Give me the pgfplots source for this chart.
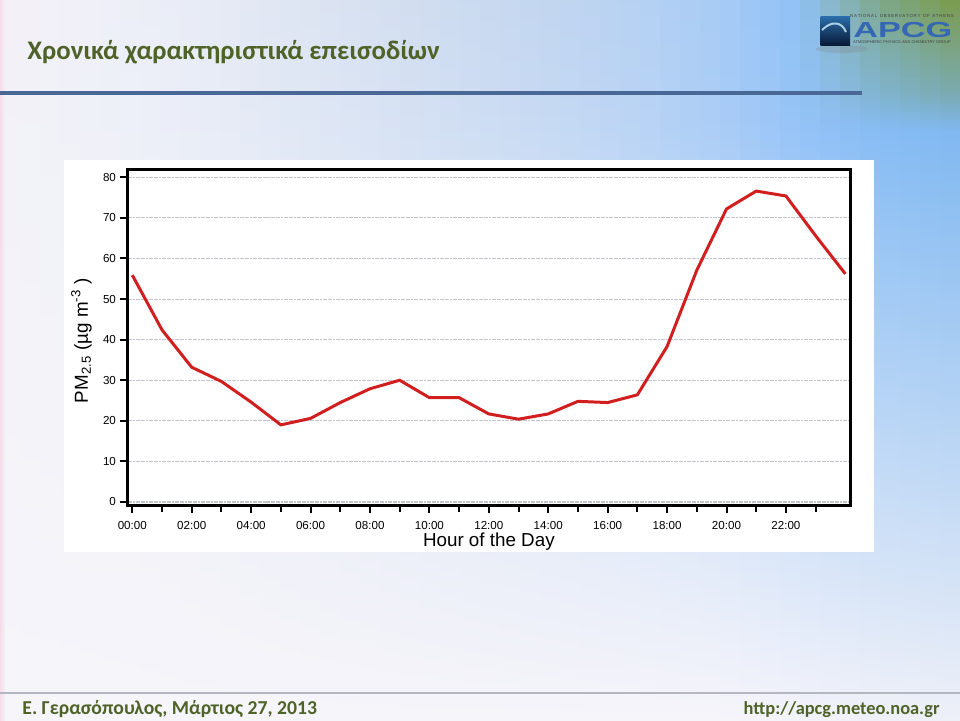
\documentclass[border=0pt]{standalone}
\usepackage{fontspec}
\setmainfont{Carlito}
\newfontfamily\arial{Liberation Sans}
\usepackage{pgfplots}
\pgfplotsset{compat=1.18}

% background colour stops (every 80 px)
\definecolor{T0}{HTML}{F5F0F7}\definecolor{T1}{HTML}{F0F0F8}\definecolor{T2}{HTML}{EBEEF7}
\definecolor{T3}{HTML}{E4E9F4}\definecolor{T4}{HTML}{DCE4F2}\definecolor{T5}{HTML}{D3DEF0}
\definecolor{T6}{HTML}{CADAF0}\definecolor{T7}{HTML}{C1D5F0}\definecolor{T8}{HTML}{B6D1F3}
\definecolor{T9}{HTML}{A7CBF5}\definecolor{T10}{HTML}{8FC1F6}\definecolor{T11}{HTML}{7EA88A}
\definecolor{T12}{HTML}{7A9A48}

\definecolor{V0}{HTML}{F3F1F8}\definecolor{V1}{HTML}{F0F1F8}\definecolor{V2}{HTML}{ECEFF8}
\definecolor{V3}{HTML}{E5EAF5}\definecolor{V4}{HTML}{DEE6F4}\definecolor{V5}{HTML}{D6E1F3}
\definecolor{V6}{HTML}{CDDCF2}\definecolor{V7}{HTML}{C4D8F3}\definecolor{V8}{HTML}{B9D3F4}
\definecolor{V9}{HTML}{A9CCF6}\definecolor{V10}{HTML}{93C2F6}\definecolor{V11}{HTML}{80B4D0}
\definecolor{V12}{HTML}{7AAAB0}

\definecolor{U0}{HTML}{F3F2F9}\definecolor{U1}{HTML}{F0F1F8}\definecolor{U2}{HTML}{ECEFF8}
\definecolor{U3}{HTML}{E6EBF6}\definecolor{U4}{HTML}{DFE7F5}\definecolor{U5}{HTML}{D7E2F4}
\definecolor{U6}{HTML}{CFDEF3}\definecolor{U7}{HTML}{C6DAF4}\definecolor{U8}{HTML}{BAD4F5}
\definecolor{U9}{HTML}{ABCDF6}\definecolor{U10}{HTML}{96C3F7}\definecolor{U11}{HTML}{86BCF4}
\definecolor{U12}{HTML}{80B8F0}

\definecolor{M0}{HTML}{F4F4FA}\definecolor{M1}{HTML}{EEF0F8}\definecolor{M2}{HTML}{E6EAF5}
\definecolor{M3}{HTML}{D8E0F2}\definecolor{M4}{HTML}{D8E0F2}\definecolor{M5}{HTML}{D8E0F2}
\definecolor{M6}{HTML}{D8E0F2}\definecolor{M7}{HTML}{D8E0F2}\definecolor{M8}{HTML}{D8E0F2}
\definecolor{M9}{HTML}{D8E0F2}\definecolor{M10}{HTML}{CBDAF2}\definecolor{M11}{HTML}{BDD3F0}
\definecolor{M12}{HTML}{B8D0EE}

\definecolor{B0}{HTML}{F6F5FA}\definecolor{B1}{HTML}{F6F5FA}\definecolor{B2}{HTML}{F6F5FA}
\definecolor{B3}{HTML}{F6F5FA}\definecolor{B4}{HTML}{F6F5FA}\definecolor{B5}{HTML}{F6F5FA}
\definecolor{B6}{HTML}{F6F5FA}\definecolor{B7}{HTML}{F6F5FA}\definecolor{B8}{HTML}{F6F5FA}
\definecolor{B9}{HTML}{F6F5FA}\definecolor{B10}{HTML}{F3F3FA}\definecolor{B11}{HTML}{F0F1F8}
\definecolor{B12}{HTML}{EEF0F8}

\definecolor{pinkedge}{HTML}{F5DCE8}
\definecolor{pinkfade}{HTML}{F3F1F8}
\definecolor{logotop}{HTML}{2A6CA8}
\definecolor{logobot}{HTML}{081A38}
\definecolor{titlegreen}{HTML}{4F6228}
\definecolor{headline}{HTML}{4A6896}
\definecolor{footline}{HTML}{B5B7C0}
\definecolor{gridgray}{HTML}{C2C5CE}
\definecolor{linered}{HTML}{D11F1F}
\definecolor{apcgblue}{HTML}{3567B5}

\newcommand{\tickfont}{\arial\fontsize{5.8}{6.5}\selectfont}
\newcommand{\labfont}{\arial\fontsize{9.4}{10}\selectfont}

\begin{document}
\begin{tikzpicture}[x=0.5pt,y=0.5pt]
\useasboundingbox (0,0) rectangle (960,720);
% ---------- slide background ----------
\foreach \i in {0,...,47}{
  \pgfmathtruncatemacro\k{(20*\i+10)/80}
  \pgfmathtruncatemacro\kk{\k+1}
  \pgfmathtruncatemacro\p{round(100*((20*\i+10)-80*\k)/80)}
  \colorlet{cT}{T\kk!\p!T\k}
  \colorlet{cV}{V\kk!\p!V\k}
  \colorlet{cU}{U\kk!\p!U\k}
  \colorlet{cM}{M\kk!\p!M\k}
  \colorlet{cB}{B\kk!\p!B\k}
  \shade[top color=cT, bottom color=cV] (20*\i,720) rectangle (20*\i+21,624.5);
  \shade[top color=cV, bottom color=cU] (20*\i,625) rectangle (20*\i+21,589.5);
  \shade[top color=cU, middle color=cM, bottom color=cB] (20*\i,590) rectangle (20*\i+21,0);
}
\shade[left color=pinkedge, right color=pinkfade] (0,0) rectangle (5,720);

% ---------- header ----------
\node[anchor=base west, inner sep=0, text=titlegreen,
      font=\bfseries\fontsize{13.4}{15}\selectfont] at (27,660.3)
      {Χρονικά χαρακτηριστικά επεισοδίων};
\draw[line width=2.35pt, headline] (0,627) -- (862,627);

% logo
\fill[gray, opacity=0.25] (842,671) ellipse (26 and 4);
\shade[top color=logotop, bottom color=logobot] (820.7,703.3) rectangle (850,675);
\draw[white!80!cyan, line width=1pt, opacity=0.8] (822,690) .. controls (832,700) and (842,698) .. (846,688);
\node[anchor=base west, inner sep=0, text=apcgblue, xscale=1.57,
      font=\arial\bfseries\fontsize{10.9}{11}\selectfont] at (852.7,682.7) {APCG};
\node[anchor=center, inner sep=0, text=black!75, font=\arial\fontsize{2.2}{2.5}\selectfont]
      at (902,704) {N\,A\,T\,I\,O\,N\,A\,L\ \ O\,B\,S\,E\,R\,V\,A\,T\,O\,R\,Y\ \ O\,F\ \ A\,T\,H\,E\,N\,S};
\node[anchor=center, inner sep=0, text=black!75, font=\arial\fontsize{2}{2.5}\selectfont]
      at (902,677.5) {ATMOSPHERIC PHYSICS AND CHEMISTRY GROUP};

% ---------- footer ----------
\draw[line width=0.8pt, footline] (0,27) -- (960,27);
\node[anchor=base west, inner sep=0, text=titlegreen,
      font=\bfseries\fontsize{9.85}{11}\selectfont] at (22,6)
      {Ε. Γερασόπουλος, Μάρτιος 27, 2013};
\node[anchor=base east, inner sep=0, text=titlegreen,
      font=\bfseries\fontsize{9.2}{10}\selectfont] at (940,6)
      {http://apcg.meteo.noa.gr};

% ---------- chart panel ----------
\fill[white] (64,168) rectangle (874,560);

\begin{axis}[
  at={(63.85pt,107.5pt)}, anchor=south west,
  scale only axis, width=361.15pt, height=167.85pt,
  xmin=-0.155, xmax=24.157, ymin=-0.74, ymax=81.97,
  xtick={0,2,...,22},
  xticklabels={00:00,02:00,04:00,06:00,08:00,10:00,12:00,14:00,16:00,18:00,20:00,22:00},
  minor xtick={1,3,...,23},
  ytick={0,10,...,80},
  tick align=outside, tick pos=left,
  major tick length=3.85pt, minor tick length=3.5pt,
  every tick/.append style={black, line width=1pt},
  axis line style={line width=1.5pt, black},
  ymajorgrids,
  major grid style={gridgray, line width=0.55pt, dash pattern=on 1pt off 0.3pt},
  ticklabel style={font=\tickfont, text=black},
  yticklabel style={xshift=1.5pt},
  xticklabel style={yshift=-0.7pt},
  /pgf/number format/assume math mode=true,
  xlabel={Hour of the Day},
  xlabel style={font=\labfont, at={(axis description cs:0.5,-0.1242)}, anchor=base},
  ylabel={PM\textsubscript{2.5} (µg m\textsuperscript{-3} )},
  ylabel style={font=\labfont, at={(axis description cs:-0.055,0.49)}, anchor=base},
]
\addplot[color=linered, line width=1.5pt] table {
x y
0 55.9
1 42.4
2 33.2
3 29.7
4 24.6
5 19.0
6 20.6
7 24.5
8 27.9
9 30.0
10 25.7
11 25.7
12 21.7
13 20.4
14 21.7
15 24.8
16 24.5
17 26.4
18 38.3
19 57.1
20 72.2
21 76.6
22 75.4
23 65.6
24 56.2
};
\end{axis}
\end{tikzpicture}
\end{document}
